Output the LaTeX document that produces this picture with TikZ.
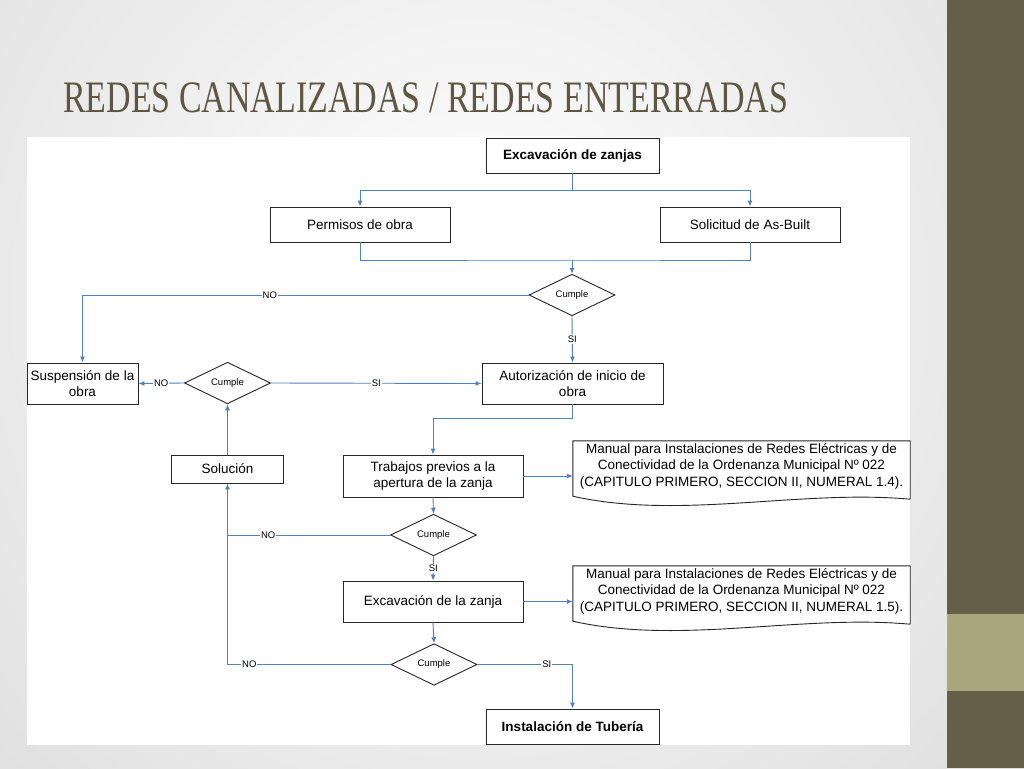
\documentclass[tikz,border=0pt]{standalone}
\usepackage{fontspec}
\setmainfont{Liberation Sans}
\newfontfamily\titlefont[FakeStretch=0.755]{Liberation Serif}
\usetikzlibrary{shapes.geometric,arrows.meta}

\definecolor{titlecol}{HTML}{5E5741}
\definecolor{sidebar}{HTML}{655E48}
\definecolor{band}{HTML}{A9A67D}
\definecolor{flowblue}{HTML}{4F81BD}

\tikzset{
	box/.style={draw=black!85, line width=0.9pt, fill=white, align=center, inner sep=0pt, font=\fontsize{13.5}{16.5}\selectfont},
	cumple/.style={diamond, draw=black!85, line width=0.9pt, fill=white, inner sep=0pt, minimum width=86pt, minimum height=34pt, font=\fontsize{9.5}{11}\selectfont},
	doc/.style={align=center, inner sep=0pt, minimum width=337pt, minimum height=50pt, font=\fontsize{13.5}{16.5}\selectfont},
	docline/.style={draw=black!85, line width=0.9pt},
	flow/.style={draw=flowblue, line width=0.9pt, -{Latex[length=6pt,width=5pt]}},
	link/.style={draw=flowblue, line width=0.9pt},
	lbl/.style={fill=white, inner sep=1pt, font=\fontsize{9.5}{11}\selectfont}
}

\begin{document}
\begin{tikzpicture}[x=1pt,y=-1pt]
		\useasboundingbox (0,0) rectangle (1024,768);
		% slide background
		\begin{scope}
			\clip (0,0) rectangle (1024,768);
			\shade[inner color=white, outer color=black!14] (-300,-500) rectangle (1260,1100);
		\end{scope}
		\fill[sidebar] (947,0) rectangle (1024,768);
		\fill[band] (947,614) rectangle (1024,691);
		\fill[white] (27,137) rectangle (910,745);

		\node[anchor=base west, text=titlecol, inner sep=0pt, font=\titlefont\fontsize{45}{50}\selectfont] (title) at (63,112) {REDES CANALIZADAS / REDES ENTERRADAS};

		% boxes
		\node[box, minimum width=173pt, minimum height=35pt, font=\bfseries\fontsize{13.5}{16.5}\selectfont] (exc) at (572.5,155.5) {Excavación de zanjas};
		\node[box, minimum width=180pt, minimum height=35pt] (perm) at (360,224.5) {Permisos de obra};
		\node[box, minimum width=180pt, minimum height=35pt] (asbuilt) at (750,224.5) {Solicitud de As-Built};
		\node[cumple] (d1) at (572,295) {Cumple};
		\node[box, minimum width=111pt, minimum height=41pt] (susp) at (82.5,383.5) {Suspensión de la\\obra};
		\node[cumple] (d2) at (227.5,383) {Cumple};
		\node[box, minimum width=181pt, minimum height=41pt] (aut) at (572.5,383.5) {Autorización de inicio de\\obra};
		\node[box, minimum width=112pt, minimum height=28pt] (solucion) at (227.5,469) {Solución};
		\node[box, minimum width=180pt, minimum height=42pt] (trab) at (433,476) {Trabajos previos a la\\apertura de la zanja};
		\node[doc] (doc1) at (741.5,466) {Manual para Instalaciones de Redes Eléctricas y de\\Conectividad de la Ordenanza Municipal Nº 022\\(CAPITULO PRIMERO, SECCION II, NUMERAL 1.4).};
		\node[cumple] (d3) at (433.5,535) {Cumple};
		\node[box, minimum width=180pt, minimum height=41pt] (exz) at (433,601.5) {Excavación de la zanja};
		\node[doc] (doc2) at (741.5,591) {Manual para Instalaciones de Redes Eléctricas y de\\Conectividad de la Ordenanza Municipal Nº 022\\(CAPITULO PRIMERO, SECCION II, NUMERAL 1.5).};
		\node[cumple] (d4) at (434,664.5) {Cumple};
		\node[box, minimum width=173pt, minimum height=35pt, font=\bfseries\fontsize{13.5}{16.5}\selectfont] (inst) at (572.5,726.5) {Instalación de Tubería};

		% document outlines
		\draw[docline] ([yshift=-8pt]doc1.south east) -- (doc1.north east) -- (doc1.north west) -- ([yshift=-5pt]doc1.south west) .. controls +(107,24) and +(-110,-10) .. ([yshift=-8pt]doc1.south east);
		\draw[docline] ([yshift=-8pt]doc2.south east) -- (doc2.north east) -- (doc2.north west) -- ([yshift=-5pt]doc2.south west) .. controls +(107,24) and +(-110,-10) .. ([yshift=-8pt]doc2.south east);

		% connectors
		\coordinate (j1) at (572,260);
		\draw[flow] (exc.south) -- ++(0,17) -| (perm.north);
		\draw[flow] (exc.south) -- ++(0,17) -| (asbuilt.north);
		\draw[link] (perm.south) |- (j1) -| (asbuilt.south);
		\draw[flow] (j1) -- (d1.north);
		\draw[flow] (d1.west) -| node[lbl, pos=0.29] {NO} (susp.north);
		\draw[flow] (d1.south) -- node[lbl] {SI} (aut.north);
		\draw[flow] (d2.west) -- node[lbl] {NO} (susp.east);
		\draw[flow] (d2.east) -- node[lbl] {SI} (aut.west);
		\draw[flow] (aut.south) -- ++(0,14) -| (trab.north);
		\draw[flow] (trab.east) -- (trab.east -| doc1.west);
		\draw[flow] (trab.south) -- (d3.north);
		\draw[link] (d3.west) -- node[lbl, pos=0.75] {NO} (solucion.south |- d3.west);
		\draw[flow] (d3.south) -- node[lbl] {SI} (exz.north);
		\draw[flow] (exz.east) -- (exz.east -| doc2.west);
		\draw[flow] (exz.south) -- (d4.north);
		\draw[flow] (d4.west) -| node[lbl, pos=0.433] {NO} (solucion.south);
		\draw[flow] (d4.east) -| node[lbl, pos=0.365] {SI} (inst.north);
		\draw[flow] (solucion.north) -- (d2.south);

	\end{tikzpicture}
\end{document}
